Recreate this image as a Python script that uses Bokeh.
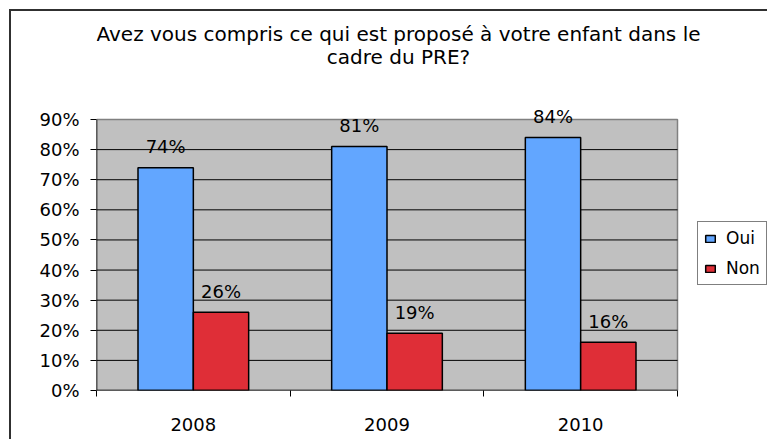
import numpy as np
from bokeh.plotting import figure
from bokeh.models import (ColumnDataSource, Range1d, FixedTicker, PrintfTickFormatter,
                          LabelSet, Label, Legend, LegendItem)
from bokeh.core.properties import value
from bokeh.embed import file_html
from bokeh.resources import INLINE

# ---- data ----
years = ["2008", "2009", "2010"]
oui = [74, 81, 84]
non = [26, 19, 16]
series_names = ["Oui", "Non"]
title_line1 = "Avez vous compris ce qui est proposé à votre enfant dans le"
title_line2 = "cadre du PRE?"
y_ticks = [0, 10, 20, 30, 40, 50, 60, 70, 80, 90]

FONT = "DejaVu Sans"
BLUE = "#62a6ff"
RED = "#df2e37"
GRAY = "#c0c0c0"

n = len(years)
idx = np.arange(n)
bar_w = 1 / 3.5
centers = idx + 0.5
x_oui = centers - bar_w / 2
x_non = centers + bar_w / 2
y_axis_max = y_ticks[-1]
# the frame extends above and to the right of the grey plot area so that the
# title, value labels and legend are drawn inside it
y_frame_top = y_axis_max * 379 / 271
x_frame_right = n * 673 / 581

src_oui = ColumnDataSource(dict(x=x_oui, top=oui, lbl=[f"{v}%" for v in oui]))
src_non = ColumnDataSource(dict(x=x_non, top=non, lbl=[f"{v}%" for v in non]))

p = figure(width=758, height=430, output_backend="svg", toolbar_location=None,
           x_range=Range1d(0, x_frame_right), y_range=Range1d(0, y_frame_top),
           min_border_left=85, min_border_right=0, min_border_top=0, min_border_bottom=51)
p.styles = {"margin-left": "9px", "margin-top": "9px",
            "border-left": "2px solid #303030", "border-top": "2px solid #303030"}

p.background_fill_color = "white"
p.border_fill_color = "white"
p.outline_line_color = None

# plot area
p.quad(left=[0], right=[n], bottom=[0], top=[y_axis_max],
       fill_color=GRAY, line_color="#808080", line_width=1.5)
# gridlines
inner = y_ticks[1:-1]
p.segment(x0=[0] * len(inner), x1=[n] * len(inner), y0=inner, y1=inner,
          line_color="black", line_width=1)

r1 = p.vbar(x="x", top="top", width=bar_w, source=src_oui, fill_color=BLUE,
            line_color="black", line_width=1.5)
r2 = p.vbar(x="x", top="top", width=bar_w, source=src_non, fill_color=RED,
            line_color="black", line_width=1.5)

# axis lines (limited to the plot area)
p.segment(x0=[0], x1=[0], y0=[0], y1=[y_axis_max], line_color="black", line_width=1.5)
p.segment(x0=[0], x1=[n], y0=[0], y1=[0], line_color="black", line_width=1.5)

p.xgrid.grid_line_color = None
p.ygrid.grid_line_color = None

# y axis
p.yaxis.ticker = FixedTicker(ticks=y_ticks)
p.yaxis.formatter = PrintfTickFormatter(format="%d%%")
p.yaxis.axis_line_color = None
p.yaxis.major_tick_out = 6
p.yaxis.major_tick_in = 0
p.yaxis.minor_tick_out = 0
p.yaxis.minor_tick_in = 0
p.yaxis.major_label_standoff = 11
p.yaxis.major_tick_line_color = "black"
p.yaxis.major_label_text_font = FONT
p.yaxis.major_label_text_font_size = "18px"
p.yaxis.major_label_text_color = "black"

# x axis: labels at category centres, ticks at boundaries
p.xaxis.ticker = FixedTicker(ticks=list(centers), minor_ticks=list(np.arange(n + 1)))
p.xaxis.major_label_overrides = {float(c): y for c, y in zip(centers, years)}
p.xaxis.axis_line_color = None
p.xaxis.major_tick_out = 0
p.xaxis.major_tick_in = 0
p.xaxis.minor_tick_out = 6
p.xaxis.minor_tick_in = 0
p.xaxis.minor_tick_line_color = "black"
p.xaxis.major_label_standoff = 21
p.xaxis.major_label_text_font = FONT
p.xaxis.major_label_text_font_size = "18px"
p.xaxis.major_label_text_color = "black"

# value labels
for s in (src_oui, src_non):
    p.add_layout(LabelSet(x="x", y="top", text="lbl", source=s, y_offset=21,
                          text_align="center", text_baseline="middle",
                          text_font=value(FONT), text_font_size=value("18px"),
                          text_color="black"))

# title (two lines)
p.add_layout(Label(x=302, y=357, x_units="screen", y_units="screen", text=title_line1,
                   text_align="center", text_baseline="middle",
                   text_font=FONT, text_font_size="20px", text_color="black"))
p.add_layout(Label(x=302, y=334, x_units="screen", y_units="screen", text=title_line2,
                   text_align="center", text_baseline="middle",
                   text_font=FONT, text_font_size="20px", text_color="black"))

legend = Legend(items=[LegendItem(label=series_names[0], renderers=[r1]),
                       LegendItem(label=series_names[1], renderers=[r2])],
                location=(601, 105), padding=6, spacing=10, margin=0,
                glyph_width=12, glyph_height=9, label_standoff=10, label_height=20,
                label_text_font=FONT, label_text_font_size="17px",
                label_text_color="black",
                border_line_color="black", border_line_width=1,
                background_fill_color="white", background_fill_alpha=1)
p.add_layout(legend, "center")

open("out.html", "w").write(file_html(p, INLINE))
